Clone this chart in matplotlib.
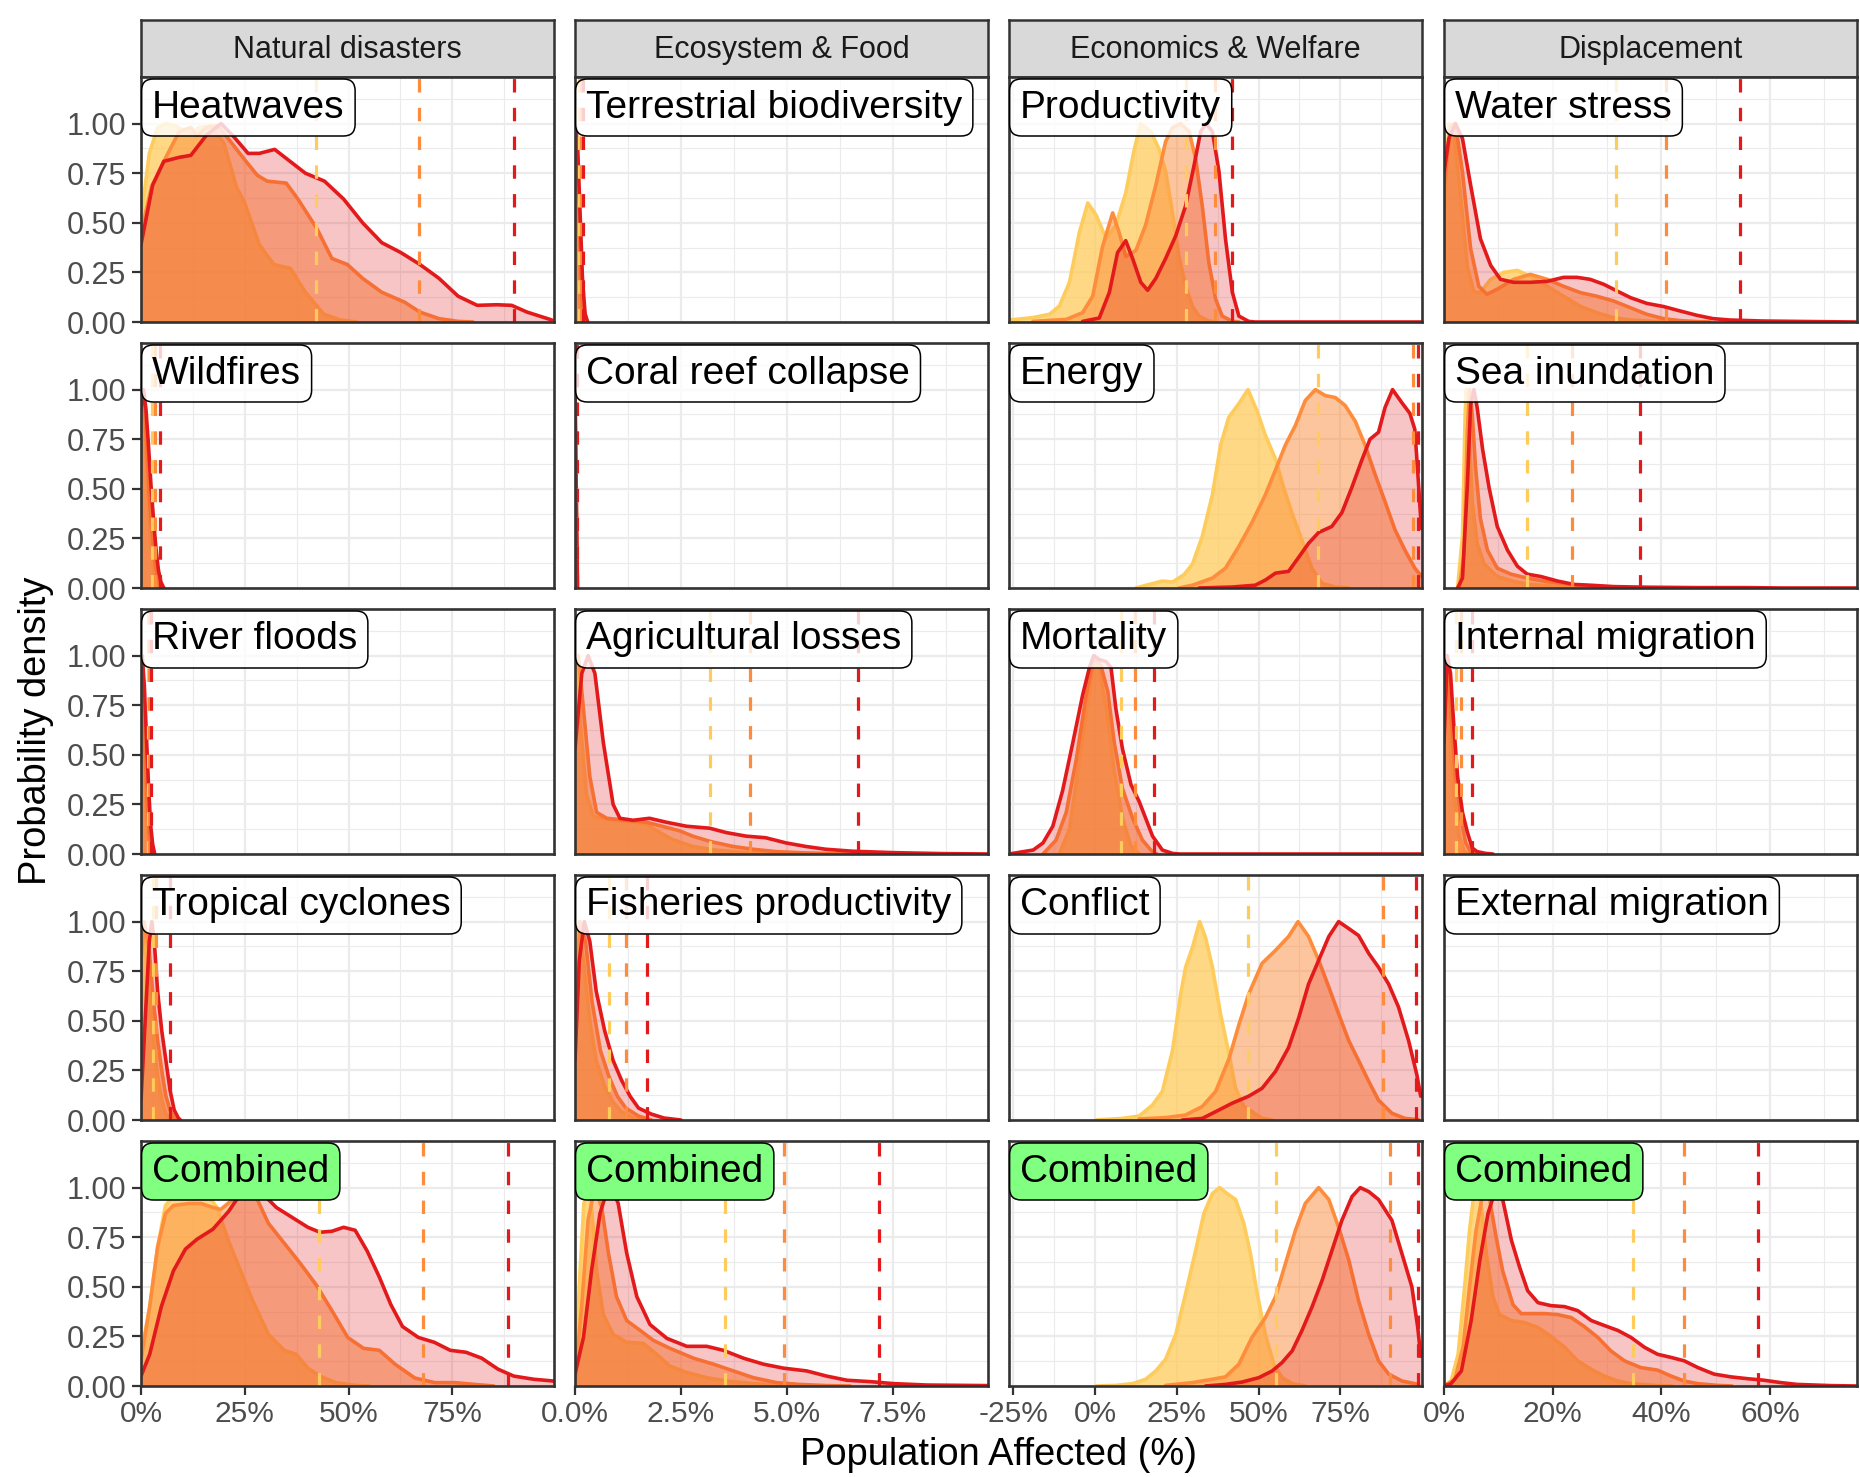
import matplotlib
matplotlib.use('Agg')
import matplotlib.pyplot as plt
from matplotlib.ticker import FixedLocator

plt.rcParams['font.family'] = ['Liberation Sans', 'DejaVu Sans']

# scenario colours (low / mid / high) and fill alpha
line_cols = ['#FECC5C', '#FD8D3C', '#E31A1C']
fill_alpha = [0.75, 0.5, 0.25]

# ---------------- Natural disasters ----------------
heatwaves_low = [(0, 0.52), (2, 0.85), (4, 0.98), (6, 1.0), (8, 0.99), (10, 0.97), (12, 0.95), (14, 0.98),
                 (17, 0.99), (20, 0.9), (23, 0.68), (25, 0.6), (28.5, 0.39), (32, 0.29), (36, 0.27),
                 (39.6, 0.15), (44, 0.04), (48, 0.01), (52, 0)]
heatwaves_mid = [(0, 0.45), (2.5, 0.68), (5.5, 0.81), (9.2, 0.96), (12, 0.98), (13.4, 0.94), (15.7, 0.98),
                 (18.4, 0.99), (21.2, 0.92), (24.9, 0.82), (28, 0.74), (30.4, 0.71), (35, 0.7), (37.8, 0.62),
                 (42.4, 0.47), (46, 0.32), (49.7, 0.29), (53.4, 0.22), (58, 0.15), (63.5, 0.1), (67.2, 0.05),
                 (71.8, 0.017), (76.4, 0.003), (80, 0)]
heatwaves_high = [(0, 0.39), (2.8, 0.69), (5.5, 0.81), (9.2, 0.83), (12, 0.84), (15.7, 0.94), (19.3, 1.0),
                  (22.1, 0.94), (25.8, 0.85), (28.5, 0.85), (32.2, 0.87), (35.9, 0.81), (39.6, 0.75),
                  (44.2, 0.71), (48.8, 0.62), (53.4, 0.5), (58, 0.4), (62.6, 0.35), (67.2, 0.29),
                  (71.8, 0.22), (76.4, 0.13), (81, 0.084), (85.7, 0.087), (89.3, 0.084), (93, 0.05), (99, 0.01)]
heatwaves_q = [42.2, 67.0, 89.8]

wildfires_low = [(0, 1.0), (0.5, 0.95), (1, 0.8), (1.5, 0.55), (2, 0.35), (2.5, 0.2), (3, 0.1), (3.5, 0.04),
                 (4, 0.01), (4.5, 0)]
wildfires_mid = [(0, 0.95), (0.5, 1.0), (1, 0.88), (1.5, 0.68), (2, 0.48), (2.5, 0.32), (3, 0.2), (3.5, 0.11),
                 (4, 0.05), (4.5, 0.02), (5, 0)]
wildfires_high = [(0, 0.9), (0.6, 1.0), (1.2, 0.9), (1.8, 0.72), (2.4, 0.52), (3, 0.35), (3.6, 0.2),
                  (4.2, 0.09), (4.8, 0.03), (5.5, 0)]
wildfires_q = [2.6, 3.4, 4.6]

river_floods_low = [(0, 1.0), (0.4, 0.8), (0.8, 0.5), (1.2, 0.25), (1.6, 0.1), (2, 0.03), (2.4, 0)]
river_floods_mid = [(0, 1.0), (0.5, 0.8), (1, 0.5), (1.5, 0.25), (2, 0.1), (2.5, 0.03), (3, 0)]
river_floods_high = [(0, 0.95), (0.3, 1.0), (0.8, 0.85), (1.3, 0.6), (1.8, 0.35), (2.3, 0.15), (2.8, 0.05),
                     (3.3, 0)]
river_floods_q = [1.7, 2.0, 2.4]

cyclones_low = [(0, 1.0), (1, 0.9), (2, 0.65), (3, 0.4), (4, 0.22), (5, 0.1), (6, 0.03), (7, 0)]
cyclones_mid = [(0, 0.8), (0.8, 1.0), (2, 0.85), (3, 0.6), (4, 0.4), (5, 0.25), (6, 0.12), (7, 0.05),
                (8, 0.01), (8.5, 0)]
cyclones_high = [(0, 0.1), (1, 0.5), (2, 0.9), (2.6, 1.0), (3.2, 0.9), (4, 0.65), (5, 0.45), (6, 0.3),
                 (7, 0.15), (8, 0.05), (9, 0.01), (9.5, 0)]
cyclones_q = [3.0, 3.6, 7.1]

nat_comb_low = [(0, 0.16), (2.1, 0.4), (4, 0.7), (5.9, 0.91), (8.8, 0.98), (12.6, 1.0), (15.4, 0.98),
                (18.3, 0.9), (21.1, 0.73), (24, 0.58), (26.9, 0.43), (30.7, 0.26), (34.5, 0.18),
                (37.4, 0.16), (40.2, 0.09), (43.1, 0.05), (46.9, 0.017), (51.7, 0.003), (55, 0)]
nat_comb_mid = [(0, 0.13), (2.1, 0.4), (4, 0.7), (5.9, 0.87), (7.8, 0.91), (11.6, 0.92), (14.5, 0.92),
                (17.3, 0.9), (19.2, 0.89), (22.1, 0.94), (25, 1.0), (27.8, 0.95), (30.7, 0.82), (34.5, 0.72),
                (38.3, 0.62), (42.2, 0.51), (46, 0.38), (49.8, 0.245), (53.6, 0.19), (57.4, 0.18),
                (61.2, 0.11), (66, 0.04), (70.8, 0.017), (75.6, 0.017), (80.4, 0.008), (85, 0)]
nat_comb_high = [(0, 0.05), (2.1, 0.16), (4.9, 0.4), (7.8, 0.58), (10.7, 0.69), (13.5, 0.74), (17.3, 0.79),
                 (21.1, 0.88), (24, 0.97), (26.4, 1.0), (28.8, 0.98), (32.6, 0.9), (36.4, 0.85), (40.2, 0.8),
                 (43.1, 0.775), (46, 0.78), (48.8, 0.8), (51.6, 0.785), (54.5, 0.68), (57.4, 0.55),
                 (60.2, 0.41), (63, 0.3), (66.8, 0.245), (70.7, 0.22), (74.5, 0.18), (78.3, 0.17),
                 (82.1, 0.14), (86, 0.085), (89.8, 0.05), (94.6, 0.034), (99.4, 0.025)]
nat_comb_q = [42.9, 68.0, 88.3]

# ---------------- Ecosystem & Food ----------------
terrestrial_low = [(0, 1.0), (0.04, 0.8), (0.08, 0.4), (0.12, 0.1), (0.16, 0)]
terrestrial_mid = [(0, 1.0), (0.05, 0.85), (0.1, 0.5), (0.15, 0.15), (0.2, 0.02), (0.25, 0)]
terrestrial_high = [(0, 1.0), (0.06, 0.9), (0.12, 0.55), (0.18, 0.2), (0.24, 0.04), (0.3, 0)]
terrestrial_q = [0.1, 0.15, 0.19]

coral_low = [(0, 1.0), (0.02, 0.5), (0.04, 0)]
coral_mid = [(0, 1.0), (0.025, 0.5), (0.05, 0)]
coral_high = [(0, 1.0), (0.03, 0.5), (0.06, 0)]
coral_q = [0.02, 0.03, 0.05]

agri_low = [(0, 1.0), (0.05, 0.99), (0.13, 0.65), (0.27, 0.3), (0.43, 0.19), (0.82, 0.17), (1.37, 0.16),
            (1.69, 0.15), (2.0, 0.108), (2.3, 0.073), (2.78, 0.038), (3.26, 0.021), (3.9, 0.009),
            (4.67, 0.003), (5.2, 0)]
agri_mid = [(0, 0.98), (0.08, 1.0), (0.2, 0.73), (0.35, 0.39), (0.51, 0.21), (0.75, 0.18), (1.2, 0.17),
            (1.69, 0.16), (2.0, 0.143), (2.47, 0.117), (2.78, 0.09), (3.18, 0.064), (3.73, 0.038),
            (4.2, 0.024), (4.75, 0.012), (5.5, 0.005), (6.3, 0.002), (7, 0)]
agri_high = [(0, 0.53), (0.16, 0.91), (0.31, 1.0), (0.47, 0.91), (0.67, 0.56), (0.9, 0.25), (1.06, 0.18),
             (1.37, 0.17), (1.76, 0.18), (2.16, 0.16), (2.63, 0.14), (3.18, 0.13), (3.57, 0.108),
             (4.04, 0.09), (4.5, 0.082), (4.98, 0.056), (5.45, 0.038), (5.92, 0.024), (6.55, 0.014),
             (7.5, 0.007), (8.67, 0.002), (9.75, 0)]
agri_q = [3.18, 4.13, 6.67]

fish_low = [(0, 0.9), (0.08, 1.0), (0.2, 0.8), (0.35, 0.5), (0.5, 0.3), (0.7, 0.17), (0.9, 0.09),
            (1.1, 0.04), (1.4, 0.01), (1.7, 0)]
fish_mid = [(0, 0.6), (0.12, 1.0), (0.25, 0.9), (0.4, 0.6), (0.6, 0.35), (0.8, 0.22), (1.0, 0.12),
            (1.2, 0.06), (1.5, 0.02), (1.8, 0)]
fish_high = [(0, 0.3), (0.1, 0.8), (0.22, 1.0), (0.35, 0.9), (0.5, 0.65), (0.7, 0.45), (0.9, 0.3),
             (1.1, 0.2), (1.3, 0.12), (1.5, 0.06), (1.8, 0.03), (2.1, 0.01), (2.5, 0)]
fish_q = [0.81, 1.21, 1.71]

eco_comb_low = [(0, 0.08), (0.12, 0.58), (0.21, 0.92), (0.29, 1.0), (0.39, 0.9), (0.51, 0.58), (0.67, 0.36),
                (0.9, 0.26), (1.22, 0.22), (1.61, 0.215), (1.93, 0.16), (2.24, 0.1), (2.64, 0.068),
                (3.11, 0.042), (3.58, 0.025), (4.21, 0.012), (5.0, 0.003), (5.6, 0)]
eco_comb_mid = [(0, 0.025), (0.16, 0.41), (0.31, 0.84), (0.47, 1.0), (0.63, 0.9), (0.79, 0.67), (0.98, 0.45),
                (1.22, 0.33), (1.54, 0.28), (1.85, 0.23), (2.24, 0.19), (2.8, 0.14), (3.27, 0.11),
                (3.74, 0.076), (4.21, 0.042), (4.76, 0.017), (5.3, 0.008), (5.94, 0.002), (6.5, 0)]
eco_comb_high = [(0, 0.06), (0.2, 0.245), (0.39, 0.58), (0.59, 0.87), (0.75, 0.98), (0.87, 1.0), (1.02, 0.92),
                 (1.22, 0.67), (1.46, 0.45), (1.77, 0.31), (2.17, 0.24), (2.64, 0.2), (3.11, 0.2),
                 (3.5, 0.18), (3.98, 0.14), (4.45, 0.11), (4.92, 0.09), (5.47, 0.076), (5.94, 0.05),
                 (6.42, 0.029), (6.97, 0.022), (7.52, 0.012), (8.3, 0.005), (9.75, 0.002)]
eco_comb_q = [3.53, 4.94, 7.18]

# ---------------- Economics & Welfare ----------------
product_low = [(-26.1, 0.01), (-19, 0.022), (-13.9, 0.039), (-10.9, 0.08), (-7.8, 0.2), (-4.8, 0.45),
               (-2.2, 0.6), (0.3, 0.54), (3.4, 0.42), (6.4, 0.49), (9.4, 0.65), (12, 0.87), (14, 1.0),
               (17.1, 0.96), (19.6, 0.87), (21.6, 0.76), (23.7, 0.55), (25.7, 0.33), (27.7, 0.18),
               (29.8, 0.08), (31.8, 0.03), (34.8, 0.005), (37, 0)]
product_mid = [(-19, 0.003), (-8.8, 0.013), (-3.8, 0.047), (-0.7, 0.13), (2.3, 0.38), (5.4, 0.55),
               (7.4, 0.45), (9.4, 0.33), (12.5, 0.36), (15.5, 0.49), (18.6, 0.69), (21.6, 0.91), (23.7, 0.98),
               (26.2, 1.0), (28.8, 0.96), (30.8, 0.82), (32.8, 0.585), (34.8, 0.3), (36.9, 0.115),
               (38.9, 0.03), (42, 0.003), (44, 0)]
product_high = [(-3.8, 0.003), (1.3, 0.02), (4.4, 0.15), (6.9, 0.35), (9.4, 0.41), (11.5, 0.32), (14, 0.2),
                (16.1, 0.16), (18.6, 0.22), (21.6, 0.32), (24.7, 0.435), (27.7, 0.585), (30.3, 0.79),
                (32.3, 0.96), (34, 1.0), (35.9, 0.96), (37.9, 0.76), (39.9, 0.42), (42, 0.15), (44, 0.03),
                (47, 0.003), (49, 0), (100, 0)]
product_q = [27.7, 36.7, 41.8]

energy_low = [(12.5, 0), (16.6, 0.018), (20.6, 0.035), (23.7, 0.03), (27.2, 0.067), (29.8, 0.12),
              (32.8, 0.26), (35.9, 0.47), (38.4, 0.72), (40.9, 0.86), (44, 0.93), (46.8, 1.0), (49.6, 0.89),
              (52.1, 0.77), (55.2, 0.65), (57.7, 0.505), (60.2, 0.38), (63.3, 0.24), (66.3, 0.1),
              (69.4, 0.023), (73.5, 0.005), (77.5, 0)]
energy_mid = [(25.7, 0), (29.8, 0.014), (35.9, 0.05), (39.9, 0.1), (44, 0.21), (48, 0.33), (52.1, 0.47),
              (55.2, 0.595), (58.2, 0.72), (61.3, 0.82), (64.3, 0.945), (67.4, 1.0), (70.4, 0.97),
              (73.5, 0.96), (76.5, 0.92), (79.6, 0.84), (82.6, 0.72), (85.6, 0.575), (88.7, 0.435),
              (91.7, 0.295), (94.8, 0.19), (97.8, 0.1), (99.8, 0.06)]
energy_high = [(31.8, 0), (42, 0.005), (49, 0.014), (52.1, 0.04), (55.2, 0.075), (59.2, 0.084),
               (62.3, 0.155), (65.3, 0.225), (68.4, 0.28), (72.4, 0.31), (75.5, 0.38), (78.5, 0.505),
               (81.6, 0.645), (84.1, 0.75), (86.7, 0.785), (88.7, 0.91), (91, 1.0), (93.8, 0.935),
               (96.3, 0.88), (97.8, 0.8), (98.6, 0.61), (99.8, 0.3)]
energy_q = [68.2, 97.1, 98.9]

mortality_low = [(-10.9, 0), (-7.8, 0.125), (-4.8, 0.47), (-1.7, 0.82), (-0.2, 0.99), (1.3, 0.94),
                 (3.4, 0.735), (5.9, 0.42), (8.4, 0.18), (11, 0.04), (13.5, 0)]
mortality_mid = [(-15.9, 0), (-11.9, 0.07), (-8.8, 0.21), (-5.8, 0.47), (-2.7, 0.8), (-0.2, 1.0), (1.8, 0.95),
                 (3.9, 0.82), (5.9, 0.56), (8.4, 0.33), (11.5, 0.18), (14.5, 0.07), (17.6, 0.01), (19, 0)]
mortality_high = [(-26.3, 0), (-18.9, 0.02), (-15.9, 0.056), (-12.9, 0.14), (-9.9, 0.32), (-6.8, 0.56),
                  (-3.8, 0.8), (-1.7, 0.94), (-0.4, 1.0), (1.3, 0.98), (3.4, 0.97), (4.9, 0.94), (6.4, 0.73),
                  (8.4, 0.53), (11, 0.35), (13.5, 0.265), (15.5, 0.18), (17.6, 0.09), (20.6, 0.02),
                  (23.7, 0.003), (26, 0), (100, 0)]
mortality_q = [7.9, 12.2, 17.9]

conflict_low = [(0.3, 0), (8.4, 0.008), (13.5, 0.02), (17.6, 0.076), (20.6, 0.144), (23.7, 0.35),
                (26.2, 0.635), (27.7, 0.77), (29.8, 0.87), (32, 1.0), (33.8, 0.92), (35.9, 0.77),
                (38.4, 0.535), (41, 0.33), (43, 0.16), (45.5, 0.068), (48, 0.042), (51.1, 0.008), (54.2, 0)]
conflict_mid = [(13.5, 0.005), (21.6, 0.012), (27.7, 0.025), (32.8, 0.068), (36.9, 0.144), (41, 0.31),
                (44, 0.48), (47, 0.635), (51.1, 0.79), (55.2, 0.855), (59.2, 0.925), (62.1, 1.0),
                (65.3, 0.925), (68.4, 0.805), (71.5, 0.67), (74.5, 0.535), (77.6, 0.4), (80.6, 0.3),
                (83.7, 0.195), (86.7, 0.1), (90.8, 0.034), (94.8, 0.008), (98.9, 0.002)]
conflict_high = [(26.7, 0), (32.8, 0.008), (36.9, 0.042), (42, 0.085), (47, 0.12), (51.1, 0.16),
                 (55.2, 0.245), (59.2, 0.365), (62.3, 0.515), (65.3, 0.685), (68.4, 0.805), (71.5, 0.925),
                 (74.5, 1.0), (77.6, 0.965), (80.6, 0.93), (83.7, 0.84), (86.7, 0.77), (89.8, 0.685),
                 (92.8, 0.57), (95.9, 0.4), (98.4, 0.23), (99.6, 0.12)]
conflict_q = [46.8, 88.2, 98.1]

econ_comb_low = [(0.3, 0), (6.4, 0.003), (11.5, 0.012), (15.5, 0.034), (18.6, 0.076), (21.6, 0.135),
                 (24.7, 0.26), (27.7, 0.465), (30.8, 0.685), (33.3, 0.87), (35.9, 0.97), (38.1, 1.0),
                 (40.4, 0.97), (43, 0.94), (45.5, 0.82), (47.5, 0.67), (49.6, 0.465), (52.1, 0.26),
                 (54.7, 0.11), (57.2, 0.042), (60.3, 0.012), (64.3, 0)]
econ_comb_mid = [(21.6, 0.003), (29.8, 0.017), (35.9, 0.034), (39.9, 0.046), (44, 0.11), (48, 0.245),
                 (52.1, 0.345), (55.2, 0.45), (58.2, 0.615), (61.3, 0.785), (64.3, 0.92), (68.4, 1.0),
                 (71.5, 0.94), (74.5, 0.8), (77.6, 0.635), (80.6, 0.43), (83.7, 0.26), (86.7, 0.127),
                 (89.8, 0.06), (93.9, 0.025), (99, 0.008)]
econ_comb_high = [(33.8, 0), (39.9, 0.008), (45, 0.02), (50.1, 0.042), (54.2, 0.076), (57.2, 0.118),
                  (60.3, 0.177), (63.3, 0.28), (66.4, 0.4), (69.4, 0.53), (72.5, 0.685), (75.5, 0.835),
                  (78.6, 0.955), (81.1, 1.0), (83.7, 0.98), (86.7, 0.94), (90.8, 0.835), (93.9, 0.665),
                  (96.9, 0.5), (98.7, 0.295), (99.6, 0.15)]
econ_comb_q = [55.2, 90.3, 98.7]

# ---------------- Displacement ----------------
water_low = [(0, 0.54), (0.9, 1.0), (1.8, 0.96), (3.1, 0.62), (4.3, 0.28), (5.5, 0.15), (6.7, 0.15),
             (8.6, 0.215), (11, 0.25), (13.5, 0.26), (15.9, 0.23), (19, 0.18), (22, 0.13), (25, 0.08),
             (28.1, 0.047), (31.2, 0.022), (34.3, 0.01), (39.1, 0.002), (42, 0)]
water_mid = [(0, 0.69), (1.2, 0.99), (2.1, 1.0), (3.4, 0.755), (4.9, 0.37), (6.4, 0.18), (7.9, 0.14),
             (9.8, 0.165), (12.8, 0.215), (15.9, 0.24), (19, 0.215), (22, 0.18), (25.1, 0.148),
             (28.1, 0.13), (31.2, 0.106), (34.3, 0.072), (37.3, 0.039), (40.4, 0.017), (43.4, 0.007),
             (46.5, 0.002), (49, 0)]
water_high = [(0, 0.755), (0.9, 0.925), (2.1, 1.0), (3.4, 0.925), (4.9, 0.69), (6.7, 0.42), (8.6, 0.285),
              (10.4, 0.215), (12.8, 0.2), (15.9, 0.2), (19, 0.205), (22, 0.225), (24.5, 0.225),
              (26.9, 0.215), (29.4, 0.19), (31.8, 0.157), (34.3, 0.123), (37.3, 0.094), (40.4, 0.078),
              (43.4, 0.056), (46.5, 0.034), (49.5, 0.017), (52.6, 0.01), (58.7, 0.005), (64.8, 0.003),
              (75.7, 0)]
water_q = [31.6, 40.9, 54.4]

sea_low = [(2.5, 0), (3.4, 0.26), (3.9, 0.88), (4.1, 1.0), (4.6, 0.79), (5.2, 0.435), (6.1, 0.225),
           (7.4, 0.12), (9.8, 0.058), (12.9, 0.032), (16, 0.018), (22.1, 0.005), (28.2, 0)]
sea_mid = [(2.8, 0), (3.7, 0.17), (4.3, 0.79), (4.7, 1.0), (5.2, 0.875), (5.8, 0.61), (6.7, 0.35), (8, 0.19),
           (9.8, 0.1), (12.3, 0.07), (15.3, 0.05), (19, 0.032), (23.3, 0.018), (28.2, 0.007), (34.4, 0.002),
           (38, 0)]
sea_high = [(2.5, 0), (3.4, 0.05), (4.3, 0.52), (4.9, 0.925), (5.5, 1.0), (6.1, 0.91), (7.1, 0.7),
            (8.3, 0.505), (9.8, 0.31), (11.7, 0.19), (13.5, 0.11), (15.3, 0.07), (17.8, 0.058),
            (20.9, 0.035), (23.9, 0.018), (27, 0.014), (31.3, 0.007), (37.4, 0.004), (46.6, 0.002),
            (55.8, 0.002), (62, 0), (76, 0)]
sea_q = [15.3, 23.6, 36.1]

internal_low = [(0, 0.98), (0.3, 1.0), (0.9, 0.65), (1.8, 0.3), (2.8, 0.09), (3.7, 0.012), (4.6, 0)]
internal_mid = [(0, 0.91), (0.4, 1.0), (1.2, 0.73), (2.1, 0.39), (3.1, 0.18), (4, 0.056), (4.9, 0.012),
                (6.1, 0)]
internal_high = [(0, 0.56), (0.6, 1.0), (1.2, 0.91), (1.8, 0.65), (2.5, 0.39), (3.4, 0.21), (4.3, 0.11),
                 (5.2, 0.03), (6.1, 0.012), (7.7, 0.003), (9, 0)]
internal_q = [2.3, 3.1, 5.2]

disp_comb_low = [(0, 0), (1.3, 0.025), (2.6, 0.16), (3.8, 0.5), (4.7, 0.785), (5.6, 0.99), (6.1, 1.0),
                 (6.9, 0.9), (7.8, 0.665), (9, 0.45), (10.2, 0.36), (12.4, 0.33), (14.8, 0.32), (17.3, 0.295),
                 (19.7, 0.25), (22.2, 0.195), (24.6, 0.127), (27.1, 0.084), (29.5, 0.05), (32, 0.025),
                 (34.4, 0.012), (39.3, 0.002), (42, 0)]
disp_comb_mid = [(0, 0), (2, 0.034), (3.5, 0.195), (4.7, 0.5), (5.9, 0.785), (7.2, 0.98), (7.6, 1.0),
                 (8.4, 0.94), (9.6, 0.75), (10.8, 0.58), (12.7, 0.41), (14.2, 0.365), (16, 0.365),
                 (18.5, 0.365), (20.9, 0.36), (23.4, 0.345), (25.8, 0.3), (28.3, 0.245), (30.7, 0.177),
                 (33.2, 0.127), (36.2, 0.093), (39.3, 0.08), (41.8, 0.05), (44.2, 0.025), (46.7, 0.012),
                 (50.3, 0.003), (53, 0)]
disp_comb_high = [(0, 0), (1.3, 0.012), (3.2, 0.076), (5, 0.33), (6.6, 0.635), (8.1, 0.87), (9.6, 1.0),
                  (10.8, 0.94), (12.4, 0.735), (13.9, 0.6), (15.4, 0.48), (17.3, 0.42), (19.7, 0.405),
                  (22.2, 0.4), (24.6, 0.38), (27.1, 0.33), (29.5, 0.305), (32, 0.28), (34.4, 0.245),
                  (36.9, 0.195), (39.3, 0.16), (41.8, 0.144), (44.2, 0.127), (46.7, 0.093), (49.7, 0.06),
                  (52.8, 0.046), (55.8, 0.037), (58.9, 0.029), (62, 0.017), (65, 0.008), (71.2, 0.002),
                  (76, 0)]
disp_comb_q = [34.7, 44.2, 57.8]

# ---------------- facet layout ----------------
column_titles = ['Natural disasters', 'Ecosystem & Food', 'Economics & Welfare', 'Displacement']
x_limits = [(0, 99.5), (0, 9.75), (-26.3, 100), (0, 76)]
x_ticks = [[0, 25, 50, 75], [0, 2.5, 5, 7.5], [-25, 0, 25, 50, 75], [0, 20, 40, 60]]
x_tick_labels = [['0%', '25%', '50%', '75%'], ['0.0%', '2.5%', '5.0%', '7.5%'],
                 ['-25%', '0%', '25%', '50%', '75%'], ['0%', '20%', '40%', '60%']]
x_minor = [[12.5, 37.5, 62.5, 87.5], [1.25, 3.75, 6.25, 8.75], [-12.5, 12.5, 37.5, 62.5, 87.5],
           [10, 30, 50, 70]]
y_ticks = [0, 0.25, 0.5, 0.75, 1.0]
y_tick_labels = ['0.00', '0.25', '0.50', '0.75', '1.00']

panels = [
    [('Heatwaves', heatwaves_low, heatwaves_mid, heatwaves_high, heatwaves_q),
     ('Wildfires', wildfires_low, wildfires_mid, wildfires_high, wildfires_q),
     ('River floods', river_floods_low, river_floods_mid, river_floods_high, river_floods_q),
     ('Tropical cyclones', cyclones_low, cyclones_mid, cyclones_high, cyclones_q),
     ('Combined', nat_comb_low, nat_comb_mid, nat_comb_high, nat_comb_q)],
    [('Terrestrial biodiversity', terrestrial_low, terrestrial_mid, terrestrial_high, terrestrial_q),
     ('Coral reef collapse', coral_low, coral_mid, coral_high, coral_q),
     ('Agricultural losses', agri_low, agri_mid, agri_high, agri_q),
     ('Fisheries productivity', fish_low, fish_mid, fish_high, fish_q),
     ('Combined', eco_comb_low, eco_comb_mid, eco_comb_high, eco_comb_q)],
    [('Productivity', product_low, product_mid, product_high, product_q),
     ('Energy', energy_low, energy_mid, energy_high, energy_q),
     ('Mortality', mortality_low, mortality_mid, mortality_high, mortality_q),
     ('Conflict', conflict_low, conflict_mid, conflict_high, conflict_q),
     ('Combined', econ_comb_low, econ_comb_mid, econ_comb_high, econ_comb_q)],
    [('Water stress', water_low, water_mid, water_high, water_q),
     ('Sea inundation', sea_low, sea_mid, sea_high, sea_q),
     ('Internal migration', internal_low, internal_mid, internal_high, internal_q),
     ('External migration', [], [], [], []),
     ('Combined', disp_comb_low, disp_comb_mid, disp_comb_high, disp_comb_q)],
]

W, H = 1860, 1477
fig = plt.figure(figsize=(W / 100, H / 100), dpi=100)

col_left = [141, 575, 1009, 1444]
row_top = [77, 343, 609, 875, 1141]
pw, ph = 413, 245


def frac(left, top, w, h):
    return [left / W, 1 - (top + h) / H, w / W, h / H]


for j in range(4):
    # strip header
    sax = fig.add_axes(frac(col_left[j], 20, pw, 57))
    sax.set_facecolor('#D9D9D9')
    sax.set_xticks([])
    sax.set_yticks([])
    for s in sax.spines.values():
        s.set_color('#333333')
        s.set_linewidth(1.8)
    sax.text(0.5, 0.48, column_titles[j], ha='center', va='center', fontsize=22, color='#1A1A1A',
             transform=sax.transAxes)

    for i in range(5):
        name, low, mid, high, q = panels[j][i]
        ax = fig.add_axes(frac(col_left[j], row_top[i], pw, ph))
        ax.set_xlim(*x_limits[j])
        ax.set_ylim(0, 1.235)
        ax.set_axisbelow(True)

        ax.set_xticks(x_ticks[j])
        ax.xaxis.set_minor_locator(FixedLocator(x_minor[j]))
        ax.set_yticks(y_ticks)
        ax.yaxis.set_minor_locator(FixedLocator([0.125, 0.375, 0.625, 0.875, 1.125]))
        ax.grid(which='major', color='#EBEBEB', lw=1.6)
        ax.grid(which='minor', color='#EBEBEB', lw=0.8)
        ax.tick_params(which='minor', length=0)

        if i == 4:
            ax.set_xticklabels(x_tick_labels[j])
            ax.tick_params(axis='x', length=6.5, width=1.6, color='#333333', labelsize=21.5,
                           labelcolor='#4D4D4D', pad=3.5)
        else:
            ax.tick_params(axis='x', length=0, labelbottom=False)
        if j == 0:
            ax.set_yticklabels(y_tick_labels)
            ax.tick_params(axis='y', length=6.5, width=1.6, color='#333333', labelsize=22,
                           labelcolor='#4D4D4D', pad=4)
        else:
            ax.tick_params(axis='y', length=0, labelleft=False)

        for s in ax.spines.values():
            s.set_color('#333333')
            s.set_linewidth(1.9)
            s.set_zorder(6)

        for k, curve in enumerate([low, mid, high]):
            if not curve:
                continue
            xs = [p[0] for p in curve]
            ys = [p[1] for p in curve]
            ax.fill_between(xs, 0, ys, color=line_cols[k], alpha=fill_alpha[k], lw=0, zorder=2 + k)
            ax.plot(xs, ys, color=line_cols[k], lw=2.6, zorder=2 + k, solid_joinstyle='round',
                    solid_capstyle='round')

        for k, v in enumerate(q):
            ax.axvline(v, color=line_cols[k], lw=2.3, dashes=(4.2, 4.8), zorder=5)

        fc = (0.5, 1.0, 0.5, 1.0) if name == 'Combined' else (1, 1, 1, 0.8)
        ax.annotate(name, xy=(0, 1), xycoords='axes fraction', xytext=(8, -9), textcoords='offset points',
                    ha='left', va='top', fontsize=28, color='black', zorder=10,
                    bbox=dict(boxstyle='round,pad=0.27,rounding_size=0.3', fc=fc, ec='black', lw=1.1))

fig.text(36 / W, 1 - 731 / H, 'Probability density', rotation=90, ha='center', va='center', fontsize=27.4)
fig.text(998 / W, 1 - 1455 / H, 'Population Affected (%)', ha='center', va='center', fontsize=27.4)

fig.savefig('out.png', dpi=100, facecolor='white')
